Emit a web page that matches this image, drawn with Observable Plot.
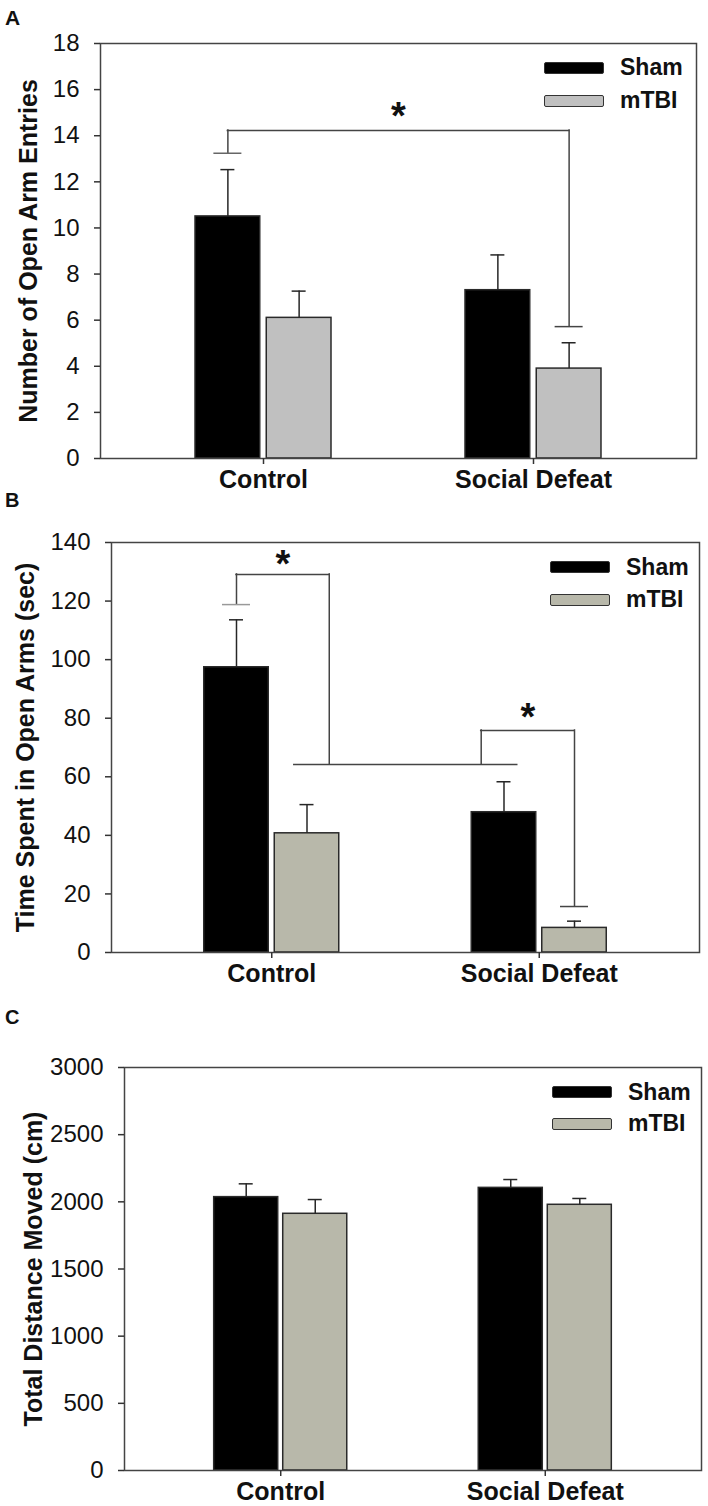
<!DOCTYPE html>
<html>
<head>
<meta charset="utf-8">
<script src="https://cdn.jsdelivr.net/npm/d3@7"></script>
<script src="https://cdn.jsdelivr.net/npm/@observablehq/plot@0.6"></script>
<style>
  body { margin: 0; background: #fff; font-family: "Liberation Sans", Arial, sans-serif; }
  #page { position: relative; width: 708px; height: 1506px; overflow: hidden; background: #fff; }
  .panel { position: absolute; left: 0; width: 708px; }
  .letter { position: absolute; font-weight: bold; line-height: 1; color: #111; }
  .legrow { position: absolute; display: flex; align-items: center; white-space: nowrap; height: 30px; }
  .sw { width: 60px; height: 12px; box-sizing: border-box; border: 1.5px solid #333; border-radius: 2px; }
  .lt { font-weight: bold; font-size: 23px; margin-left: 16px; color: #111; }
</style>
</head>
<body>
<div id="page"></div>
<script>
// ---------- data ----------
const categories = ["Control", "Social Defeat"];
const groups = ["Sham", "mTBI"];

// Panel A: Number of Open Arm Entries (mean, SEM)
const aSham = [10.5, 7.3];
const aShamSem = [2.03, 1.53];
const aMtbi = [6.1, 3.9];
const aMtbiSem = [1.16, 1.12];
const aTicks = [0, 2, 4, 6, 8, 10, 12, 14, 16, 18];

// Panel B: Time Spent in Open Arms (sec)
const bSham = [97.4, 47.9];
const bShamSem = [16.2, 10.4];
const bMtbi = [40.7, 8.4];
const bMtbiSem = [9.8, 2.3];
const bTicks = [0, 20, 40, 60, 80, 100, 120, 140];

// Panel C: Total Distance Moved (cm)
const cSham = [2035, 2104];
const cShamSem = [99, 62];
const cMtbi = [1911, 1978];
const cMtbiSem = [106, 47];
const cTicks = [0, 500, 1000, 1500, 2000, 2500, 3000];

// significance brackets: points [category, position, value]
// position = bar (group name) or offset from the group centre as a fraction of the group width
const aBrackets = [
  [["Control", "Sham", 13.24], ["Control", "Sham", 14.23], ["Social Defeat", "mTBI", 14.23], ["Social Defeat", "mTBI", 5.72]]
];
const aCaps = [["Control", "Sham", 13.24, "#666"], ["Social Defeat", "mTBI", 5.72, "#444"]];
const aStars = [{from: ["Control", "Sham"], to: ["Social Defeat", "mTBI"], y: 14.3}];

const bBrackets = [
  [["Control", "Sham", 118.8], ["Control", "Sham", 129.1], ["Control", 0.426, 129.1], ["Control", 0.426, 64.2]],
  [["Control", 0.167, 64.2], ["Social Defeat", -0.163, 64.2]],
  [["Social Defeat", -0.43, 64.2], ["Social Defeat", -0.43, 75.8], ["Social Defeat", "mTBI", 75.8], ["Social Defeat", "mTBI", 15.7]]
];
const bCaps = [["Control", "Sham", 118.8, "#999"], ["Social Defeat", "mTBI", 15.7, "#444"]];
const bStars = [
  {from: ["Control", "Sham"], to: ["Control", 0.426], y: 128.2},
  {from: ["Social Defeat", -0.43], to: ["Social Defeat", "mTBI"], y: 75.9}
];

const FONT = '"Liberation Sans", Arial, Helvetica, sans-serif';
const W = 708;
const page = document.getElementById("page");

function drawPanel(cfg) {
  const xs = d3.scaleBand().domain(categories)
    .range([cfg.marginLeft, W - cfg.marginRight])
    .paddingInner(cfg.paddingInner).paddingOuter(cfg.paddingOuter).align(0.5);
  const bw = xs.bandwidth();
  const barW = (bw - cfg.gap) / 2;
  const groupOff = {Sham: -(barW + cfg.gap) / 2, mTBI: (barW + cfg.gap) / 2};
  const off = p => typeof p === "string" ? groupOff[p] : p * bw;
  const rows = g => categories.map((c, i) => ({
    cat: c,
    v: g === "Sham" ? cfg.sham[i] : cfg.mtbi[i],
    e: g === "Sham" ? cfg.shamSem[i] : cfg.mtbiSem[i]
  }));
  const line = {stroke: "#262626", strokeWidth: 1.5};
  const bline = {stroke: "#444", strokeWidth: 1.5, strokeLinecap: "square"};
  const marks = [];

  for (const g of groups) {
    const d = rows(g);
    marks.push(Plot.barY(d, {
      x: "cat", y: "v",
      fill: g === "Sham" ? "#000" : cfg.mtbiFill,
      stroke: "#2a2a2a", strokeWidth: 1.5,
      insetLeft: g === "Sham" ? 0 : barW + cfg.gap,
      insetRight: g === "Sham" ? barW + cfg.gap : 0
    }));
    marks.push(Plot.ruleX(d, {x: "cat", y1: "v", y2: r => r.v + r.e, dx: groupOff[g], ...line}));
    marks.push(Plot.tickY(d, {
      x: "cat", y: r => r.v + r.e,
      insetLeft: bw / 2 + groupOff[g] - 7, insetRight: bw / 2 - groupOff[g] - 7, ...line
    }));
  }

  for (const path of cfg.brackets) {
    for (let k = 0; k < path.length - 1; k++) {
      const [c1, p1, y1] = path[k], [c2, p2, y2] = path[k + 1];
      if (c1 === c2 && p1 === p2) {
        marks.push(Plot.ruleX([{cat: c1, y1, y2}], {x: "cat", y1: "y1", y2: "y2", dx: off(p1), ...bline}));
      } else {
        marks.push(Plot.ruleY([{c1, c2, y: y1}], {
          x1: "c1", x2: "c2", y: "y",
          insetLeft: bw / 2 + off(p1), insetRight: bw / 2 - off(p2), ...bline
        }));
      }
    }
  }
  for (const [c, p, y, col] of cfg.caps) {
    marks.push(Plot.tickY([{cat: c, y}], {
      x: "cat", y: "y", stroke: col, strokeWidth: 1.5,
      insetLeft: bw / 2 + off(p) - 14, insetRight: bw / 2 - off(p) - 14
    }));
  }
  for (const s of cfg.stars) {
    const [c1, p1] = s.from, [c2, p2] = s.to;
    const px1 = xs(c1) + bw / 2 + off(p1), px2 = xs(c2) + bw / 2 + off(p2);
    marks.push(Plot.text([{cat: c1, y: s.y}], {
      x: "cat", y: "y", text: () => "*",
      dx: (px1 + px2) / 2 - (xs(c1) + bw / 2),
      lineAnchor: "bottom", textAnchor: "middle",
      fontSize: 38, fontWeight: "bold", fill: "#111"
    }));
  }

  marks.push(Plot.frame({stroke: "#444", strokeWidth: 1.5}));
  marks.push(Plot.axisY({
    ticks: cfg.ticks, tickSize: 6, tickPadding: 15, tickFormat: d => String(d),
    fontSize: 24, label: null, stroke: "#333", strokeWidth: 1.5
  }));
  marks.push(Plot.axisX({
    tickSize: 6, tickPadding: 6, fontSize: 25, fontWeight: "bold",
    label: null, stroke: "#333", strokeWidth: 1.5
  }));
  marks.push(Plot.text([cfg.label], {
    frameAnchor: "left", rotate: -90, dx: cfg.labelX - cfg.marginLeft,
    lineAnchor: "bottom", textAnchor: "middle",
    fontSize: 25, fontWeight: "bold", fill: "#111"
  }));

  const chart = Plot.plot({
    width: W, height: cfg.height,
    marginLeft: cfg.marginLeft, marginRight: cfg.marginRight,
    marginTop: cfg.marginTop, marginBottom: cfg.marginBottom,
    x: {domain: categories, paddingInner: cfg.paddingInner, paddingOuter: cfg.paddingOuter, align: 0.5, round: false, axis: null},
    y: {domain: cfg.yDomain, axis: null},
    style: {fontFamily: FONT, background: "transparent", overflow: "visible", color: "#111"},
    marks
  });

  const wrap = document.createElement("div");
  wrap.className = "panel";
  wrap.style.top = cfg.top + "px";
  wrap.appendChild(chart);
  page.appendChild(wrap);

  const letter = document.createElement("div");
  letter.className = "letter";
  letter.textContent = cfg.letter;
  letter.style.left = cfg.letterPos[0] + "px";
  letter.style.top = cfg.letterPos[1] + "px";
  letter.style.fontSize = cfg.letterSize + "px";
  page.appendChild(letter);

  groups.forEach((g, i) => {
    const row = document.createElement("div");
    row.className = "legrow";
    row.style.left = cfg.legend.x + "px";
    row.style.top = (cfg.legend.cy[i] - 15) + "px";
    const sw = document.createElement("div");
    sw.className = "sw";
    sw.style.background = g === "Sham" ? "#000" : cfg.mtbiFill;
    const t = document.createElement("span");
    t.className = "lt";
    t.textContent = g;
    row.appendChild(sw);
    row.appendChild(t);
    page.appendChild(row);
  });
}

drawPanel({
  letter: "A", letterPos: [5, 7], letterSize: 21,
  top: 0, height: 500, marginLeft: 100, marginRight: 12, marginTop: 43, marginBottom: 42,
  paddingInner: 0.4963, paddingOuter: 0.3519, gap: 6.5,
  sham: aSham, shamSem: aShamSem, mtbi: aMtbi, mtbiSem: aMtbiSem,
  yDomain: [0, 18], ticks: aTicks, label: "Number of Open Arm Entries", labelX: 36,
  mtbiFill: "#c0c0c0",
  brackets: aBrackets, caps: aCaps, stars: aStars,
  legend: {x: 544, cy: [67.5, 100.5]}
});

drawPanel({
  letter: "B", letterPos: [5, 490], letterSize: 20,
  top: 500, height: 500, marginLeft: 111, marginRight: 9, marginTop: 42, marginBottom: 48,
  paddingInner: 0.4953, paddingOuter: 0.3467, gap: 6,
  sham: bSham, shamSem: bShamSem, mtbi: bMtbi, mtbiSem: bMtbiSem,
  yDomain: [0, 140], ticks: bTicks, label: "Time Spent in Open Arms (sec)", labelX: 33,
  mtbiFill: "#b8b8aa",
  brackets: bBrackets, caps: bCaps, stars: bStars,
  legend: {x: 550, cy: [567, 599.5]}
});

drawPanel({
  letter: "C", letterPos: [5, 1007], letterSize: 20,
  top: 1000, height: 506, marginLeft: 124, marginRight: 7, marginTop: 67, marginBottom: 36,
  paddingInner: 0.497, paddingOuter: 0.339, gap: 5,
  sham: cSham, shamSem: cShamSem, mtbi: cMtbi, mtbiSem: cMtbiSem,
  yDomain: [0, 3000], ticks: cTicks, label: "Total Distance Moved (cm)", labelX: 41,
  mtbiFill: "#b8b8aa",
  brackets: [], caps: [], stars: [],
  legend: {x: 552, cy: [1092, 1123.5]}
});
</script>
</body>
</html>
